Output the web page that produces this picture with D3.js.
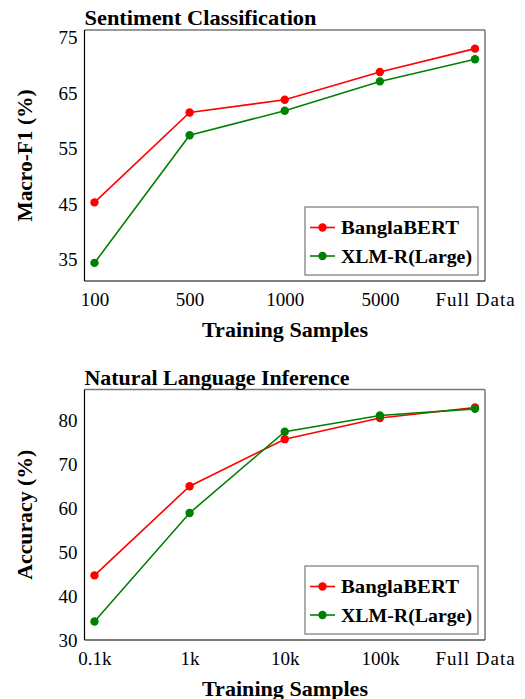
<!DOCTYPE html>
<html>
<head>
<meta charset="utf-8">
<script src="https://cdn.jsdelivr.net/npm/d3@7"></script>
<style>
  body { margin: 0; background: #fff; }
  svg text { font-family: "Liberation Serif", "DejaVu Serif", serif; fill: #000; }
  .bold { font-weight: bold; }
</style>
</head>
<body>
<svg id="chart" width="525" height="699"></svg>
<script>
// data
const seriesNames = ["BanglaBERT", "XLM-R(Large)"]
const seriesColors = ["#ff0000", "#008000"]

const sentLabels = ["100", "500", "1000", "5000", "Full Data"]
const sentBangla = [45.2, 61.4, 63.7, 68.7, 72.9]
const sentXlmr = [34.3, 57.3, 61.7, 67.0, 71.0]
const sentTicks = [35, 45, 55, 65, 75]

const nliLabels = ["0.1k", "1k", "10k", "100k", "Full Data"]
const nliBangla = [44.7, 65.0, 75.7, 80.5, 82.9]
const nliXlmr = [34.2, 58.9, 77.4, 81.1, 82.6]
const nliTicks = [30, 40, 50, 60, 70, 80]

const svg = d3.select("#chart")

// stretch a bold label to the width it has in the original (CM fonts are wider)
function fit(sel, w) {
  sel.attr("textLength", w).attr("lengthAdjust", "spacingAndGlyphs")
}

function drawPanel(opt) {
  const left = 84.5, right = 485
  const g = svg.append("g")

  const x = d3.scalePoint()
    .domain(opt.labels)
    .range([left, right])
    .padding(0.105)

  const y = d3.scaleLinear()
    .domain(opt.yDomain)
    .range([opt.bottom, opt.top])

  // frame: left/bottom dark, top/right lighter like the original
  g.append("line").attr("x1", left).attr("x2", right).attr("y1", opt.top).attr("y2", opt.top)
    .attr("stroke", "#777").attr("stroke-width", 1.5)
  g.append("line").attr("x1", right).attr("x2", right).attr("y1", opt.top).attr("y2", opt.bottom)
    .attr("stroke", "#777").attr("stroke-width", 1.5)
  g.append("line").attr("x1", left).attr("x2", left).attr("y1", opt.top).attr("y2", opt.bottom)
    .attr("stroke", "#000").attr("stroke-width", 1.2)
  g.append("line").attr("x1", left).attr("x2", right).attr("y1", opt.bottom).attr("y2", opt.bottom)
    .attr("stroke", "#000").attr("stroke-width", 1.2)

  // y axis (labels only)
  const yAxis = g.append("g")
    .attr("transform", `translate(${left},0)`)
    .call(d3.axisLeft(y).tickValues(opt.yTicks).tickSize(0).tickPadding(7))
  yAxis.select(".domain").remove()
  yAxis.selectAll("text").style("font-size", "19px").attr("dy", "0.35em")

  // x axis (labels only)
  const xAxis = g.append("g")
    .attr("transform", `translate(0,${opt.bottom})`)
    .call(d3.axisBottom(x).tickSize(0).tickPadding(12))
  xAxis.select(".domain").remove()
  xAxis.selectAll("text").style("font-size", "19px")
    .style("letter-spacing", d => d == "Full Data" ? "1px" : null)

  // title
  g.append("text")
    .attr("class", "bold")
    .attr("x", left)
    .attr("y", opt.top - 5)
    .style("font-size", "21px")
    .text(opt.title)
    .call(fit, opt.titleW)

  // axis titles
  g.append("text")
    .attr("class", "bold")
    .attr("x", 285)
    .attr("y", opt.bottom + 56)
    .attr("text-anchor", "middle")
    .style("font-size", "21px")
    .text("Training Samples")
    .call(fit, 166)

  g.append("text")
    .attr("class", "bold")
    .attr("transform", `translate(32,${(opt.top + opt.bottom) / 2}) rotate(-90)`)
    .attr("text-anchor", "middle")
    .style("font-size", "21px")
    .text(opt.yTitle)
    .call(fit, opt.yTitleW)

  // lines + markers
  const line = d3.line()
    .x((d, i) => x(opt.labels[i]))
    .y(d => y(d))

  opt.series.forEach((vals, s) => {
    g.append("path")
      .datum(vals)
      .attr("fill", "none")
      .attr("stroke", seriesColors[s])
      .attr("stroke-width", 1.6)
      .attr("d", line)

    g.selectAll(null)
      .data(vals)
      .enter()
      .append("circle")
      .attr("cx", (d, i) => x(opt.labels[i]))
      .attr("cy", d => y(d))
      .attr("r", 4.2)
      .attr("fill", seriesColors[s])
  })

  // legend
  const lg = g.append("g")
    .attr("transform", `translate(305,${opt.bottom - 74})`)
  lg.append("rect")
    .attr("width", 173)
    .attr("height", 68)
    .attr("fill", "#fff")
    .attr("stroke", "#777")
    .attr("stroke-width", 1.2)

  const legendW = [118, 131]
  seriesNames.forEach((name, s) => {
    const row = 20.5 + s * 28.5
    lg.append("line")
      .attr("x1", 5).attr("x2", 30)
      .attr("y1", row).attr("y2", row)
      .attr("stroke", seriesColors[s])
      .attr("stroke-width", 1.6)
    lg.append("circle")
      .attr("cx", 17.5).attr("cy", row).attr("r", 4.2)
      .attr("fill", seriesColors[s])
    lg.append("text")
      .attr("class", "bold")
      .attr("x", 36)
      .attr("y", row)
      .attr("dy", "0.35em")
      .style("font-size", "19.5px")
      .text(name)
      .call(fit, legendW[s])
  })
}

drawPanel({
  title: "Sentiment Classification",
  titleW: 232,
  yTitle: "Macro-F1 (%)",
  yTitleW: 132,
  labels: sentLabels,
  series: [sentBangla, sentXlmr],
  yTicks: sentTicks,
  yDomain: [31.04, 76.26],
  top: 30,
  bottom: 281
})

drawPanel({
  title: "Natural Language Inference",
  titleW: 265,
  yTitle: "Accuracy (%)",
  yTitleW: 130,
  labels: nliLabels,
  series: [nliBangla, nliXlmr],
  yTicks: nliTicks,
  yDomain: [30, 87],
  top: 389.5,
  bottom: 640
})
</script>
</body>
</html>
